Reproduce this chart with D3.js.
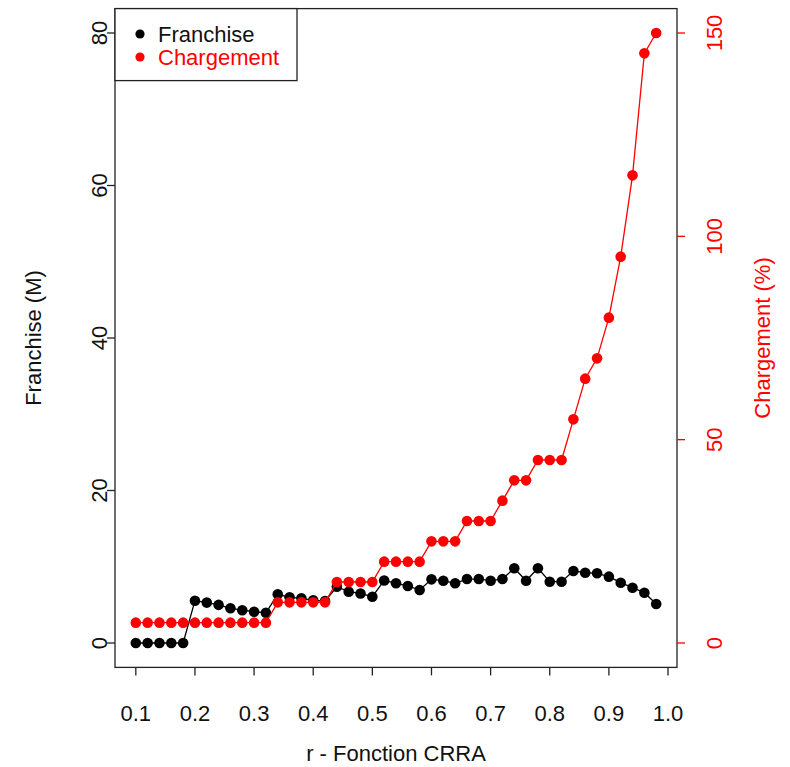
<!DOCTYPE html>
<html>
<head>
<meta charset="utf-8">
<script src="https://cdn.jsdelivr.net/npm/d3@7"></script>
<style>
  html, body { margin: 0; padding: 0; background: #fff; }
  svg { display: block; font-family: "Liberation Sans", Arial, sans-serif; }
</style>
</head>
<body>
<svg id="chart" width="790" height="767"></svg>
<script>
// ---- data ----
const rValues = [0.10,0.12,0.14,0.16,0.18,0.20,0.22,0.24,0.26,0.28,0.30,0.32,0.34,0.36,0.38,0.40,0.42,0.44,0.46,0.48,0.50,0.52,0.54,0.56,0.58,0.60,0.62,0.64,0.66,0.68,0.70,0.72,0.74,0.76,0.78,0.80,0.82,0.84,0.86,0.88,0.90,0.92,0.94,0.96,0.98];
const franchise = [0,0,0,0,0,5.55,5.3,5.0,4.55,4.3,4.1,3.97,6.38,5.99,5.86,5.6,5.5,7.38,6.73,6.5,6.07,8.2,7.83,7.48,6.95,8.35,8.17,7.83,8.39,8.39,8.17,8.39,9.8,8.17,9.8,8.04,8.04,9.44,9.22,9.14,8.7,7.91,7.25,6.6,5.11];
const chargement = [5,5,5,5,5,5,5,5,5,5,5,5,10,10,10,10,10,15,15,15,15,20,20,20,20,25,25,25,30,30,30,35,40,40,45,45,45,55,65,70,80,95,115,145,150];
const xTicks = [0.1,0.2,0.3,0.4,0.5,0.6,0.7,0.8,0.9,1.0];
const xTickLabels = ["0.1","0.2","0.3","0.4","0.5","0.6","0.7","0.8","0.9","1.0"];
const leftTicks = [0,20,40,60,80];
const rightTicks = [0,50,100,150];
const seriesNames = ["Franchise","Chargement"];

// ---- layout ----
const svg = d3.select("#chart");
const FS = 22;
const x = d3.scaleLinear().domain([0.0648, 1.0152]).range([115, 677]);
const yL = d3.scaleLinear().domain([0, 80]).range([643, 33]);
const yR = d3.scaleLinear().domain([0, 150]).range([643, 33]);
const boxTop = yL(83.2), boxBottom = yL(-3.2), boxLeft = x.range()[0], boxRight = x.range()[1];

// box
svg.append("rect").attr("x", boxLeft).attr("y", boxTop)
  .attr("width", boxRight - boxLeft).attr("height", boxBottom - boxTop)
  .attr("fill", "none").attr("stroke", "#222").attr("stroke-width", 1.3);

// x axis
const xAxis = svg.append("g");
xTicks.forEach((t, i) => {
  xAxis.append("line").attr("x1", x(t)).attr("x2", x(t)).attr("y1", boxBottom).attr("y2", boxBottom + 8)
    .attr("stroke", "#222").attr("stroke-width", 1.3);
  xAxis.append("text").attr("x", x(t)).attr("y", 721).attr("text-anchor", "middle")
    .attr("font-size", FS).attr("fill", "#111").text(xTickLabels[i]);
});
svg.append("text").attr("x", (boxLeft + boxRight) / 2).attr("y", 761).attr("text-anchor", "middle")
  .attr("font-size", FS).attr("fill", "#111").text("r - Fonction CRRA");

// left axis
leftTicks.forEach(t => {
  svg.append("line").attr("x1", boxLeft - 8).attr("x2", boxLeft).attr("y1", yL(t)).attr("y2", yL(t))
    .attr("stroke", "#222").attr("stroke-width", 1.3);
  svg.append("text").attr("transform", `translate(107,${yL(t)}) rotate(-90)`)
    .attr("text-anchor", "middle").attr("font-size", FS).attr("fill", "#111").text(t);
});
svg.append("text").attr("transform", `translate(41,${(boxTop + boxBottom) / 2}) rotate(-90)`)
  .attr("text-anchor", "middle").attr("font-size", FS).attr("fill", "#111").text("Franchise (M)");

// right axis
rightTicks.forEach(t => {
  svg.append("line").attr("x1", boxRight).attr("x2", boxRight + 8).attr("y1", yR(t)).attr("y2", yR(t))
    .attr("stroke", "#ff0000").attr("stroke-width", 1.3);
  svg.append("text").attr("transform", `translate(722,${yR(t)}) rotate(-90)`)
    .attr("text-anchor", "middle").attr("font-size", FS).attr("fill", "#ff0000").text(t);
});
svg.append("text").attr("transform", `translate(770,${(boxTop + boxBottom) / 2}) rotate(-90)`)
  .attr("text-anchor", "middle").attr("font-size", FS).attr("fill", "#ff0000").text("Chargement (%)");

// series
function drawSeries(vals, yScale, color) {
  const pts = rValues.map((r, i) => [r, vals[i]]);
  svg.append("path").datum(pts)
    .attr("d", d3.line().x(d => x(d[0])).y(d => yScale(d[1])))
    .attr("fill", "none").attr("stroke", color).attr("stroke-width", 1.3);
  svg.append("g").selectAll("circle").data(pts).join("circle")
    .attr("cx", d => x(d[0])).attr("cy", d => yScale(d[1])).attr("r", 5.3)
    .attr("fill", color);
}
drawSeries(franchise, yL, "#000000");
drawSeries(chargement, yR, "#ff0000");

// legend
const lg = svg.append("g");
lg.append("rect").attr("x", boxLeft).attr("y", boxTop).attr("width", 182).attr("height", 72)
  .attr("fill", "#fff").attr("stroke", "#222").attr("stroke-width", 1.3);
const legColors = ["#000000", "#ff0000"];
seriesNames.forEach((n, i) => {
  const cy = 34 + i * 23;
  lg.append("circle").attr("cx", 140).attr("cy", cy).attr("r", 4.6).attr("fill", legColors[i]);
  lg.append("text").attr("x", 158).attr("y", cy + 8).attr("font-size", FS)
    .attr("fill", i === 0 ? "#111" : "#ff0000").text(n);
});
</script>
</body>
</html>
